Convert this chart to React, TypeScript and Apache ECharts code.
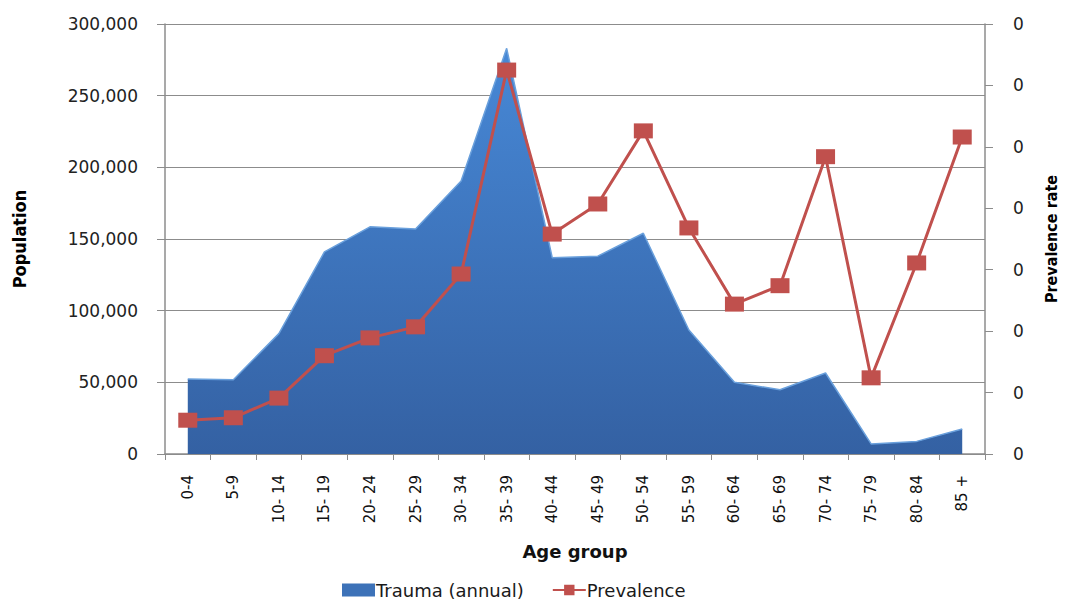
import React, { useEffect, useRef } from "react";
import * as echarts from "echarts";

const categories = ["0-4", "5-9", "10- 14", "15- 19", "20- 24", "25- 29", "30- 34", "35- 39", "40- 44", "45- 49", "50- 54", "55- 59", "60- 64", "65- 69", "70- 74", "75- 79", "80- 84", "85 +"];
const trauma = [52300, 51800, 84000, 141000, 158500, 157000, 190500, 283000, 137000, 138000, 154000, 86500, 50000, 44800, 56500, 7000, 8800, 17500];
const prevalence = [0.00055, 0.00059, 0.00091, 0.0016, 0.00189, 0.00207, 0.00293, 0.00625, 0.00358, 0.00407, 0.00526, 0.00368, 0.00244, 0.00274, 0.00484, 0.00124, 0.00311, 0.00516];
const leftTicks = { min: 0, max: 300000, interval: 50000 };
const rightTicks = { min: 0, max: 0.007, interval: 0.001 };

const labelFont = "Verdana, 'DejaVu Sans', sans-serif";
const narrowFont = "'Liberation Sans Narrow', 'Arial Narrow', 'DejaVu Sans Condensed', 'Liberation Sans', sans-serif";

export default function App() {
  const ref = useRef<HTMLDivElement>(null);
  useEffect(() => {
    const chart = echarts.init(ref.current!, undefined, { renderer: "svg" });
    chart.setOption({
      animation: false,
      backgroundColor: "#ffffff",
      grid: { left: 165, right: 80, top: 24, bottom: 150, containLabel: false, outerBoundsMode: "none" },
      legend: {
        bottom: 0,
        left: 337,
        itemGap: 28,
        itemWidth: 33,
        itemHeight: 13,
        textStyle: { fontFamily: labelFont, fontSize: 18, color: "#1a1a1a", padding: [0, 0, 0, -4] },
        data: [
          { name: "Trauma (annual)", icon: "rect", itemStyle: { color: "#3d72b8" } },
          { name: "Prevalence" },
        ],
      },
      xAxis: {
        type: "category",
        data: categories,
        boundaryGap: true,
        name: "Age group",
        nameLocation: "middle",
        nameGap: 88,
        nameTextStyle: { fontFamily: labelFont, fontSize: 18, fontWeight: "bold", color: "#111" },
        axisLine: { lineStyle: { color: "#8c8c8c", width: 1.5 } },
        axisTick: { show: true, length: 6, lineStyle: { color: "#8c8c8c" } },
        axisLabel: { rotate: 90, fontFamily: labelFont, fontSize: 15, color: "#111", margin: 21 },
        splitLine: { show: false },
      },
      yAxis: [
        {
          type: "value",
          ...leftTicks,
          name: "Population",
          nameLocation: "middle",
          nameRotate: 90,
          nameGap: 137,
          nameTextStyle: { fontFamily: narrowFont, fontSize: 18, fontWeight: "bold", color: "#000" },
          axisLine: { show: true, lineStyle: { color: "#8c8c8c", width: 1.5 } },
          axisTick: { show: true, length: 8, lineStyle: { color: "#8c8c8c" } },
          axisLabel: {
            fontFamily: labelFont,
            fontSize: 17,
            color: "#222",
            margin: 27,
            formatter: (v: number) => v.toLocaleString("en-US"),
          },
          splitLine: { show: true, lineStyle: { color: "#8c8c8c", width: 1.2 } },
        },
        {
          type: "value",
          ...rightTicks,
          position: "right",
          name: "Prevalence rate",
          nameLocation: "middle",
          nameRotate: 90,
          nameGap: 58,
          nameTextStyle: { fontFamily: narrowFont, fontSize: 16, fontWeight: "bold", color: "#000" },
          axisLine: { show: true, lineStyle: { color: "#8c8c8c", width: 1.5 } },
          axisTick: { show: true, length: 8, lineStyle: { color: "#8c8c8c" } },
          axisLabel: {
            fontFamily: labelFont,
            fontSize: 17,
            color: "#222",
            margin: 28,
            formatter: (v: number) => v.toFixed(0),
          },
          splitLine: { show: false },
        },
      ],
      series: [
        {
          name: "Trauma (annual)",
          type: "line",
          yAxisIndex: 0,
          data: trauma,
          symbol: "none",
          itemStyle: { color: "#3d72b8" },
          lineStyle: { width: 1.5, color: "#6aa0dc" },
          areaStyle: {
            opacity: 1,
            color: new echarts.graphic.LinearGradient(0, 0, 0, 1, [
              { offset: 0, color: "#4788d6" },
              { offset: 1, color: "#3461a3" },
            ]),
          },
          z: 1,
        },
        {
          name: "Prevalence",
          type: "line",
          yAxisIndex: 1,
          data: prevalence,
          symbol: "rect",
          symbolSize: [19, 15],
          itemStyle: { color: "#c0504d" },
          lineStyle: { width: 3, color: "#c0504d" },
          z: 3,
        },
      ],
    });
    return () => chart.dispose();
  }, []);
  return <div ref={ref} style={{ width: 1065, height: 604, position: "fixed", left: 0, top: 0 }} />;
}
